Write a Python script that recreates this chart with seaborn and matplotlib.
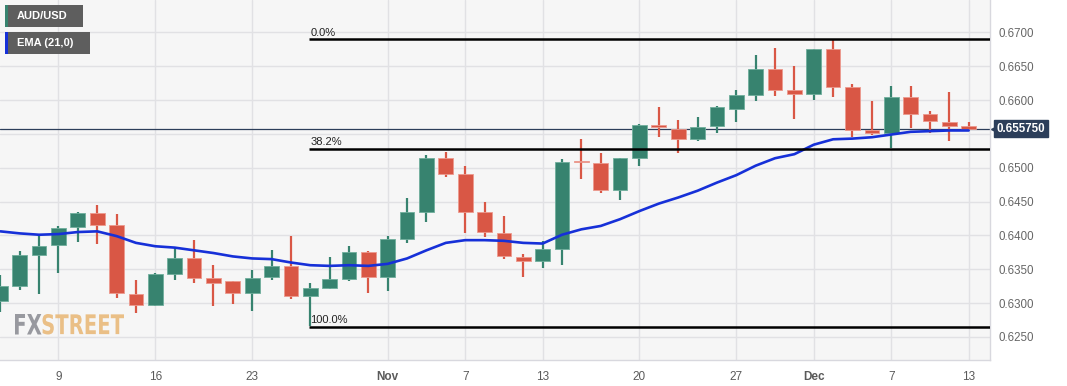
import numpy as np
import pandas as pd
import matplotlib
matplotlib.use("Agg")
import matplotlib.pyplot as plt
import seaborn as sns
from matplotlib.textpath import TextPath
from matplotlib.patches import PathPatch
from matplotlib.font_manager import FontProperties
from matplotlib.transforms import Affine2D, IdentityTransform

# Daily AUD/USD candles, 4 Oct - 13 Dec
dates = ["Oct 4", "Oct 5", "Oct 6", "Oct 9", "Oct 10", "Oct 11", "Oct 12", "Oct 13",
         "Oct 16", "Oct 17", "Oct 18", "Oct 19", "Oct 20", "Oct 23", "Oct 24", "Oct 25",
         "Oct 26", "Oct 27", "Oct 30", "Oct 31", "Nov 1", "Nov 2", "Nov 3", "Nov 6",
         "Nov 7", "Nov 8", "Nov 9", "Nov 10", "Nov 13", "Nov 14", "Nov 15", "Nov 16",
         "Nov 17", "Nov 20", "Nov 21", "Nov 22", "Nov 23", "Nov 24", "Nov 27", "Nov 28",
         "Nov 29", "Nov 30", "Dec 1", "Dec 4", "Dec 5", "Dec 6", "Dec 7", "Dec 8",
         "Dec 11", "Dec 12", "Dec 13"]
open_ = [0.6303, 0.6326, 0.6371, 0.6386, 0.6412, 0.6433, 0.6415, 0.6314, 0.6297, 0.6343,
         0.6366, 0.6337, 0.6332, 0.6315, 0.6338, 0.6355, 0.6310, 0.6323, 0.6336, 0.6376,
         0.6339, 0.6394, 0.6435, 0.6514, 0.6490, 0.6434, 0.6404, 0.6368, 0.6362, 0.6380,
         0.6509, 0.6507, 0.6467, 0.6515, 0.6563, 0.6557, 0.6542, 0.6561, 0.6586, 0.6608,
         0.6646, 0.6615, 0.6609, 0.6675, 0.6619, 0.6555, 0.6552, 0.6604, 0.6580, 0.6568,
         0.6561]
high = [0.6342, 0.6377, 0.6401, 0.6414, 0.6434, 0.6445, 0.6432, 0.6334, 0.6345, 0.6381,
        0.6393, 0.6356, 0.6333, 0.6349, 0.6378, 0.6399, 0.6329, 0.6368, 0.6384, 0.6377,
        0.6399, 0.6455, 0.6519, 0.6523, 0.6503, 0.6449, 0.6429, 0.6373, 0.6392, 0.6513,
        0.6542, 0.6522, 0.6515, 0.6565, 0.6590, 0.6570, 0.6575, 0.6591, 0.6615, 0.6667,
        0.6677, 0.6650, 0.6675, 0.6690, 0.6624, 0.6598, 0.6621, 0.6620, 0.6584, 0.6612,
        0.6567]
low = [0.6287, 0.6320, 0.6313, 0.6344, 0.6391, 0.6388, 0.6308, 0.6286, 0.6296, 0.6334,
       0.6329, 0.6296, 0.6298, 0.6289, 0.6334, 0.6306, 0.6266, 0.6321, 0.6333, 0.6315,
       0.6318, 0.6389, 0.6420, 0.6487, 0.6404, 0.6398, 0.6365, 0.6339, 0.6352, 0.6357,
       0.6484, 0.6462, 0.6452, 0.6502, 0.6545, 0.6522, 0.6540, 0.6551, 0.6568, 0.6598,
       0.6606, 0.6572, 0.6600, 0.6605, 0.6546, 0.6548, 0.6529, 0.6558, 0.6551, 0.6540,
       0.6556]
close = [0.6325, 0.6371, 0.6385, 0.6411, 0.6433, 0.6415, 0.6315, 0.6297, 0.6343, 0.6366,
         0.6337, 0.6330, 0.6315, 0.6337, 0.6355, 0.6310, 0.6322, 0.6335, 0.6375, 0.6339,
         0.6394, 0.6435, 0.6514, 0.6490, 0.6434, 0.6405, 0.6369, 0.6362, 0.6380, 0.6509,
         0.6508, 0.6467, 0.6514, 0.6563, 0.6560, 0.6542, 0.6560, 0.6590, 0.6607, 0.6646,
         0.6615, 0.6609, 0.6675, 0.6619, 0.6556, 0.6552, 0.6604, 0.6579, 0.6569, 0.6561,
         0.65575]
ema21 = [0.6406, 0.6403, 0.6401, 0.6402, 0.6405, 0.6406, 0.6399, 0.6389, 0.6384, 0.6382,
         0.6378, 0.6374, 0.6369, 0.6366, 0.6365, 0.6360, 0.6356, 0.6355, 0.6356, 0.6355,
         0.6358, 0.6366, 0.6378, 0.6389, 0.6393, 0.6393, 0.6392, 0.6389, 0.6388, 0.6401,
         0.6409, 0.6414, 0.6424, 0.6436, 0.6447, 0.6456, 0.6466, 0.6478, 0.6489, 0.6503,
         0.6514, 0.6520, 0.6534, 0.6542, 0.6543, 0.6545, 0.6549, 0.6553, 0.6554, 0.6555,
         0.6555]

fib_labels = ["0.0%", "38.2%", "100.0%"]
fib_prices = [0.6690, 0.6528, 0.6265]
fib_start = "Oct 26"
last_price = 0.65575

x_ticks = ["Oct 9", "Oct 16", "Oct 23", "Nov 1", "Nov 7", "Nov 13", "Nov 20", "Nov 27",
           "Dec 1", "Dec 7", "Dec 13"]
x_tick_labels = ["9", "16", "23", "Nov", "7", "13", "20", "27", "Dec", "7", "13"]
y_ticks = [0.6250, 0.6300, 0.6350, 0.6400, 0.6450, 0.6500, 0.6550, 0.6600, 0.6650, 0.6700]

df = pd.DataFrame({"date": dates, "open": open_, "high": high, "low": low,
                   "close": close, "ema": ema21})
df["idx"] = np.arange(len(df))
df["up"] = df["close"] >= df["open"]

GREEN = "#37836f"
RED = "#d95745"
BLUE = "#1630d8"
NAVY = "#2c3e5a"

sns.set_style("white")
plt.rcParams["font.family"] = ["Liberation Sans", "DejaVu Sans"]

W, H = 1067, 386
fig = plt.figure(figsize=(W / 100, H / 100), dpi=100)
ax = fig.add_axes([0.0, 26 / H, 990 / W, 360 / H])
ax.set_facecolor("#f6f6f6")

# grid
pos = {d: i for i, d in enumerate(dates)}
for d in x_ticks:
    ax.axvline(pos[d], color="#e1e1e4", lw=1, zorder=0)
for v in y_ticks:
    ax.axhline(v, color="#e1e1e4", lw=1, zorder=0)

# candles
colors = np.where(df["up"], GREEN, RED)
ax.vlines(df["idx"], df["low"], df["high"], colors=colors, lw=1.6, zorder=2)
body_bottom = df[["open", "close"]].min(axis=1)
body_h = (df["open"] - df["close"]).abs().clip(lower=0.00012)
edge = np.where(df["up"], "#6fae9c", "#ec9a8e")
ax.bar(df["idx"], body_h, bottom=body_bottom, width=0.76, color=colors,
       edgecolor=edge, linewidth=0.6, zorder=3)

# EMA
sns.lineplot(data=df, x="idx", y="ema", color=BLUE, lw=1.9, ax=ax, zorder=4)

# last price line
ax.axhline(last_price, color=NAVY, lw=0.9, zorder=1)

# fibonacci levels
xmax = 51.1
for lab, p in zip(fib_labels, fib_prices):
    ax.hlines(p, pos[fib_start] - 0.05, xmax, color="black", lw=1.8, zorder=5)
    ax.text(pos[fib_start], p + 0.0002, lab, fontsize=8, color="#222222",
            ha="left", va="bottom", zorder=6)

ax.set_xlim(-0.02, xmax)
ax.set_ylim(0.6216, 0.67477)
ax.set_xlabel("")
ax.set_ylabel("")

ax.set_xticks([pos[d] for d in x_ticks])
ax.set_xticklabels(x_tick_labels, fontsize=8.5, color="#5a5a5a")
for t in ax.get_xticklabels():
    if t.get_text() in ("Nov", "Dec"):
        t.set_fontweight("bold")
ax.yaxis.tick_right()
ax.set_yticks(y_ticks)
# the 0.6550 label sits under the last-price tag
ax.set_yticklabels(["" if abs(v - 0.6550) < 1e-6 else f"{v:.4f}" for v in y_ticks],
                   fontsize=8.3, color="#666666")
ax.tick_params(axis="x", length=0, pad=8)
ax.tick_params(axis="y", length=0, pad=6)

for s in ["top", "left"]:
    ax.spines[s].set_visible(False)
for s in ["right", "bottom"]:
    ax.spines[s].set_color("#d8d8de")
    ax.spines[s].set_linewidth(1)

# last price tag
ytr = ax.get_yaxis_transform()
ax.text(1.0068, last_price, "0.655750", transform=ytr, fontsize=8.3, color="white",
        fontweight="bold", ha="left", va="center", zorder=10, clip_on=False,
        bbox=dict(boxstyle="square,pad=0.22", fc=NAVY, ec=NAVY))
ax.plot([1.0062], [last_price], marker="<", ms=6.5, color=NAVY, transform=ytr,
        clip_on=False, zorder=9)

# legend boxes (pixel coords -> figure fraction)
def px_rect(x0, y0, x1, y1, c):
    fig.patches.append(plt.Rectangle((x0 / W, 1 - y1 / H), (x1 - x0) / W, (y1 - y0) / H,
                                     transform=fig.transFigure, fc=c, ec="none", zorder=20))

px_rect(5, 5, 83, 26.5, "#5e5e5e")
px_rect(5, 5, 7.5, 26.5, GREEN)
px_rect(5, 32, 89.5, 53.5, "#5e5e5e")
px_rect(5, 32, 8, 53.5, BLUE)
fig.text(17 / W, 1 - 16 / H, "AUD/USD", fontsize=8, color="white", fontweight="bold",
         va="center", zorder=21)
fig.text(17 / W, 1 - 43 / H, "EMA (21,0)", fontsize=8, color="white", fontweight="bold",
         va="center", zorder=21)

# watermark, squeezed into a narrow box (pixel box, top-left origin)
def logo_text(s, x0, x1, y0, y1, color):
    tp = TextPath((0, 0), s, size=30, prop=FontProperties(family="DejaVu Sans", weight="bold"))
    ext = tp.get_extents()
    tr = (Affine2D().translate(-ext.x0, -ext.y0)
          .scale((x1 - x0) / ext.width, (y1 - y0) / ext.height)
          .translate(x0, H - y1) + IdentityTransform())
    fig.patches.append(PathPatch(tp, transform=tr, fc=color, ec="none", alpha=0.9, zorder=21))

logo_text("FX", 15, 41.5, 314, 334.5, "#8e8f96")
logo_text("STREET", 42.5, 124, 314, 334.5, "#e9b97a")

fig.savefig("out.png", dpi=100, facecolor="white")
